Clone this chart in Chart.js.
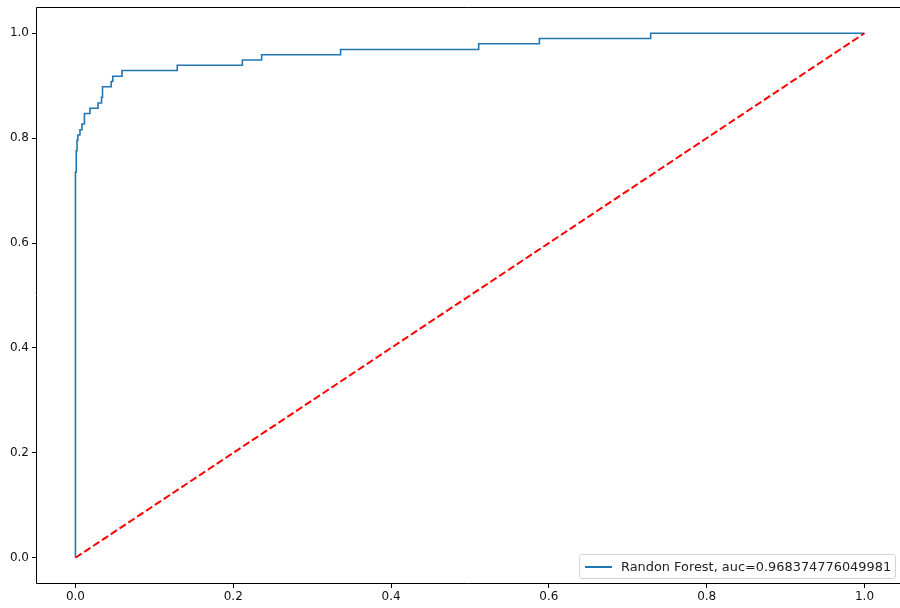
<!DOCTYPE html>
<html>
<head>
<meta charset="utf-8">
<script src="https://cdn.jsdelivr.net/npm/chart.js@4.4.1/dist/chart.umd.min.js"></script>
<style>
  body { margin: 0; background: #fff; overflow: hidden; }
  #wrap { position: relative; width: 900px; height: 608px; }
  #legend {
    position: absolute; left: 579px; top: 554px; width: 317px; height: 25px;
    border: 1px solid #d4d4d4; border-radius: 3px; background: rgba(255,255,255,0.85);
    font-family: "DejaVu Sans", sans-serif; font-size: 12.9px; color: #222;
    box-sizing: border-box;
  }
  #legend .swatch { position: absolute; left: 5px; top: 11px; width: 27px; height: 2px; background: #1f77b4; }
  #legend .label { position: absolute; left: 41px; top: 4px; white-space: nowrap; }
</style>
</head>
<body>
<div id="wrap">
  <canvas id="roc" width="900" height="608"></canvas>
  <div id="legend"><span class="swatch"></span><span class="label">Randon Forest, auc=0.968374776049981</span></div>
</div>
<script>
// ROC curve points (false positive rate / true positive rate)
const fpr = [0, 0, 0.001, 0.002, 0.003, 0.0057, 0.0082, 0.0114, 0.0184, 0.0286, 0.033, 0.0343,
             0.0453, 0.0473, 0.059, 0.129, 0.2115, 0.236, 0.336, 0.511, 0.588, 0.729, 1.0];
const tpr = [0, 0.735, 0.776, 0.796, 0.806, 0.816, 0.827, 0.847, 0.857, 0.867, 0.878, 0.898,
             0.908, 0.918, 0.929, 0.939, 0.949, 0.959, 0.969, 0.980, 0.990, 1.0, 1.0];

// chance diagonal
const diagX = [0, 1];
const diagY = [0, 1];

const xTicks = [0, 0.2, 0.4, 0.6, 0.8, 1.0];
const yTicks = [0, 0.2, 0.4, 0.6, 0.8, 1.0];

const tickFont = { family: "DejaVu Sans", size: 12 };

// spines: the source image is cut off on the right, so no right spine
const frame = {
    id: "frame",
    afterDatasetsDraw(chart) {
        const a = chart.chartArea;
        const ctx = chart.ctx;
        const l = Math.round(a.left) + 0.5, t = Math.round(a.top) + 0.5, b = Math.round(a.bottom) - 0.5;
        ctx.save();
        ctx.strokeStyle = "#000";
        ctx.lineWidth = 1;
        ctx.beginPath();
        ctx.moveTo(a.right + 2, t);
        ctx.lineTo(l, t);
        ctx.lineTo(l, b);
        ctx.lineTo(a.right + 2, b);
        ctx.stroke();
        ctx.restore();
    }
};

new Chart(document.getElementById("roc").getContext("2d"), {
    type: "line",
    data: {
        datasets: [
            {
                label: "diag",
                data: diagX.map((x, i) => ({ x: x, y: diagY[i] })),
                borderColor: "#ff0000",
                borderWidth: 2,
                borderDash: [7.4, 3.2],
                pointRadius: 0,
                fill: false,
                order: 0
            },
            {
                label: "Randon Forest, auc=0.968374776049981",
                data: fpr.map((x, i) => ({ x: x, y: tpr[i] })),
                borderColor: "#1f77b4",
                borderWidth: 1.6,
                stepped: "before",
                pointRadius: 0,
                fill: false,
                order: 1
            }
        ]
    },
    options: {
        responsive: false,
        animation: false,
        layout: { padding: { top: 7, right: 0, left: 0, bottom: 0 } },
        plugins: {
            legend: { display: false },
            tooltip: { enabled: false }
        },
        scales: {
            x: {
                type: "linear",
                min: -0.05,
                max: 1.045,
                afterFit: s => { s.height = 24; s.paddingLeft = 0; s.paddingRight = 0; },
                afterBuildTicks: s => { s.ticks = xTicks.map(v => ({ value: v })); },
                ticks: { callback: v => v.toFixed(1), font: tickFont, color: "#111", padding: 2, maxRotation: 0 },
                grid: { drawOnChartArea: false, tickLength: 4, color: "#000" },
                border: { display: false }
            },
            y: {
                type: "linear",
                min: -0.05,
                max: 1.05,
                afterFit: s => { s.width = 36; s.paddingTop = 0; s.paddingBottom = 0; },
                afterBuildTicks: s => { s.ticks = yTicks.map(v => ({ value: v })); },
                ticks: { callback: v => v.toFixed(1), font: tickFont, color: "#111", padding: 3 },
                grid: { drawOnChartArea: false, tickLength: 4, color: "#000" },
                border: { display: false }
            }
        }
    },
    plugins: [frame]
});
</script>
</body>
</html>
